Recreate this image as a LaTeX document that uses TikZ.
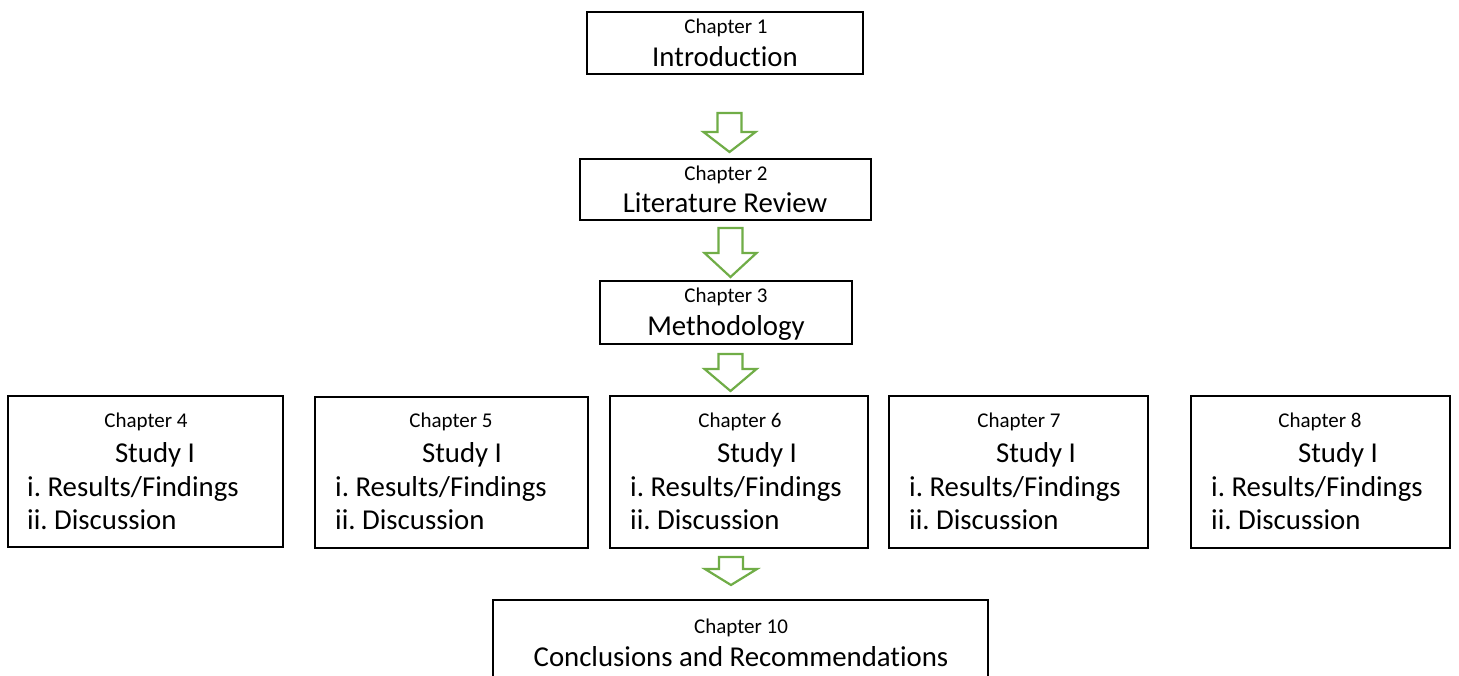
\documentclass[tikz,border=0pt]{standalone}
\usepackage{fontspec}
\setmainfont[Ligatures={NoCommon}]{Carlito}
\frenchspacing
\definecolor{arrowgreen}{HTML}{70AD47}
\tikzset{
  box/.style={draw=black, line width=1.9pt, inner sep=0pt, fill=white},
  small/.style={anchor=base, inner sep=0pt, font=\fontsize{21}{25}\selectfont},
  big/.style={anchor=base, inner sep=0pt, font=\fontsize{28.8}{34}\selectfont},
  bigleft/.style={anchor=base west, inner sep=0pt, font=\fontsize{28.8}{34}\selectfont},
  arrowline/.style={draw=arrowgreen, fill=white, line width=2.2pt, line join=miter},
  pics/barrow/.style args={#1/#2}{code={
    \path[arrowline] (-12,0) -- (12,0) -- (12,#2) -- (26,#2) -- (0,#1) -- (-26,#2) -- (-12,#2) -- cycle;
  }}
}
\begin{document}
\begin{tikzpicture}[x=1pt,y=-1pt]
\useasboundingbox (0,0) rectangle (1459,675);
\clip (0,0) rectangle (1459,675);
\fill[white] (0,0) rectangle (1459,675);

% Chapter 1
\node[box, minimum width=276pt, minimum height=62pt] (c1) at (725,43) {};
\node[small] (c1a) at (726,33) {Chapter 1};
\node[big] (c1b) at (725,66) {Introduction};

% Chapter 2
\node[box, minimum width=291pt, minimum height=61pt] (c2) at (725.5,189.5) {};
\node[small] (c2a) at (726,180) {Chapter 2};
\node[big] (c2b) at (725,212) {Literature Review};

% Chapter 3
\node[box, minimum width=252pt, minimum height=63pt] (c3) at (726,312.5) {};
\node[small] (c3a) at (726,302) {Chapter 3};
\node[big] (c3b) at (726,335) {Methodology};

% Chapter 4
\node[box, minimum width=275pt, minimum height=151pt] (c4) at (145.5,471.5) {};
\node[small] (c4a) at (146,427) {Chapter 4};
\node[big] (c4b) at (155,462) {Study I};
\node[bigleft] (c4c) at (27,496) {i. Results/Findings};
\node[bigleft] (c4d) at (27,529) {ii. Discussion};

% Chapter 5
\node[box, minimum width=273pt, minimum height=151pt] (c5) at (451.5,472.5) {};
\node[small] (c5a) at (451,427) {Chapter 5};
\node[big] (c5b) at (462,462) {Study I};
\node[bigleft] (c5c) at (335,496) {i. Results/Findings};
\node[bigleft] (c5d) at (335,529) {ii. Discussion};

% Chapter 6
\node[box, minimum width=258pt, minimum height=152pt] (c6) at (739,472) {};
\node[small] (c6a) at (740,427) {Chapter 6};
\node[big] (c6b) at (757,462) {Study I};
\node[bigleft] (c6c) at (630,496) {i. Results/Findings};
\node[bigleft] (c6d) at (630,529) {ii. Discussion};

% Chapter 7
\node[box, minimum width=259pt, minimum height=152pt] (c7) at (1018.5,472) {};
\node[small] (c7a) at (1019,427) {Chapter 7};
\node[big] (c7b) at (1036,462) {Study I};
\node[bigleft] (c7c) at (909,496) {i. Results/Findings};
\node[bigleft] (c7d) at (909,529) {ii. Discussion};

% Chapter 8
\node[box, minimum width=259pt, minimum height=152pt] (c8) at (1320.5,472) {};
\node[small] (c8a) at (1320,427) {Chapter 8};
\node[big] (c8b) at (1338,462) {Study I};
\node[bigleft] (c8c) at (1211,496) {i. Results/Findings};
\node[bigleft] (c8d) at (1211,529) {ii. Discussion};

% Chapter 10
\node[box, minimum width=495pt, minimum height=100pt] (c10) at (740.5,650) {};
\node[small] (c10a) at (741,633) {Chapter 10};
\node[big] (c10b) at (741,666) {Conclusions and Recommendations};

% Block arrows
\pic at (729.5,113) {barrow={39/19}};
\pic at (730.5,228) {barrow={49/25}};
\pic at (730.5,354) {barrow={37/15}};
\pic at (731,557) {barrow={28/12}};
\end{tikzpicture}
\end{document}
